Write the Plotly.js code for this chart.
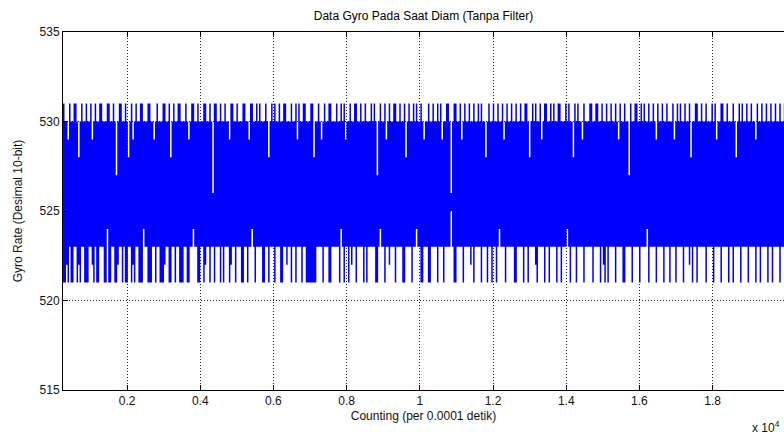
<!DOCTYPE html>
<html>
<head>
<meta charset="utf-8">
<script src="https://cdn.plot.ly/plotly-3.0.1.min.js"></script>
<style>html,body{margin:0;padding:0;background:#fff;}#chart{width:784px;height:437px;}</style>
</head>
<body>
<div id="chart"></div>
<script>
// Counting index of the first plotted column and spacing between columns (samples)
const countStart = 250;
const countStep = 41.2;

// Upper envelope of the gyro reading (max per column, Desimal 10-bit)
const gyroMax = [
531,530,530,529,531,530,530,531,531,530,528,530,531,530,530,531,530,530,531,529,
530,531,530,530,531,531,530,530,530,531,531,530,530,531,530,527,530,531,531,530,
530,531,530,528,530,531,529,530,531,530,530,531,531,530,530,530,531,531,530,530,
529,530,531,530,530,530,531,531,530,530,531,528,530,531,530,530,531,531,530,530,
530,531,530,529,530,531,531,530,530,531,530,530,530,531,531,530,530,531,530,526,
531,531,530,530,531,530,530,531,530,530,529,531,531,530,530,531,530,530,530,531,
531,530,530,529,531,531,530,530,531,530,531,530,530,530,531,530,528,530,531,530,
531,530,530,531,530,530,531,531,530,530,530,531,530,530,531,529,531,530,530,531,
531,530,530,530,531,531,528,530,530,531,530,529,530,531,530,530,531,531,530,530,
530,531,530,530,531,530,531,529,530,530,531,530,530,531,531,530,530,531,530,530,
531,530,530,530,531,530,531,530,527,530,531,530,530,531,529,530,531,530,530,531,
531,530,530,531,530,530,531,528,530,531,530,530,531,530,531,530,530,531,530,529,
530,530,531,530,530,531,530,530,531,530,531,529,530,530,531,531,530,526,530,531,
531,530,530,531,529,530,531,530,530,531,530,530,531,530,530,531,530,531,530,530,
528,530,531,530,530,531,530,530,531,530,530,531,529,530,531,530,530,531,530,530,
531,530,530,531,530,530,531,531,530,528,530,531,530,531,530,530,531,529,530,531,
531,530,530,531,530,531,530,530,531,531,530,530,530,531,530,531,530,530,528,531,
530,531,530,530,529,531,530,530,530,531,531,530,530,531,531,530,530,531,530,530,
531,530,530,531,530,530,531,530,529,531,530,530,531,530,530,527,531,530,530,531,
531,530,530,531,530,531,530,530,531,530,530,531,530,529,531,530,530,531,530,530,
531,530,530,530,531,529,530,531,530,531,530,530,531,530,530,531,528,530,530,531,
531,530,530,531,530,530,531,530,530,530,531,530,531,529,530,530,531,531,530,530,
531,530,530,530,531,530,528,530,531,530,531,530,530,531,530,530,531,530,530,529,
531,530,530,531,530,530,531,530,530,531,530,530,531,530,530,531,530,530,531,531
];

// Lower envelope of the gyro reading (min per column, Desimal 10-bit)
const gyroMin = [
521,521,522,521,523,521,521,523,523,521,522,521,523,523,521,521,521,523,523,522,
521,523,521,521,523,523,523,521,521,524,521,521,523,523,521,521,522,523,523,521,
523,521,521,523,523,521,522,521,523,523,521,521,521,524,523,523,521,521,521,523,
523,521,523,523,521,521,521,522,523,523,521,521,523,523,521,523,523,521,521,521,
523,523,521,521,523,523,524,523,523,521,521,523,523,521,522,523,523,521,523,523,
521,523,523,523,521,523,521,523,523,523,521,522,523,523,521,523,523,523,521,521,
523,523,521,523,523,524,523,521,523,523,523,523,521,521,523,523,521,523,523,523,
521,523,523,523,521,521,523,523,522,523,523,521,523,523,521,523,523,523,521,523,
523,521,521,521,521,521,521,521,523,523,523,523,521,523,523,523,521,521,523,523,
523,523,523,521,524,523,521,523,523,521,523,522,523,523,521,523,523,523,523,521,
523,521,523,523,523,523,523,521,521,523,524,523,523,521,523,523,522,523,523,523,
521,523,523,523,523,521,521,523,523,523,523,521,523,523,524,523,523,521,521,523,
523,523,521,521,523,523,523,523,521,523,523,523,521,523,523,523,523,525,523,521,
521,523,523,523,523,521,523,523,523,523,522,523,521,523,523,523,523,521,523,523,
523,521,523,523,521,523,523,521,523,524,523,523,523,521,523,523,523,523,523,521,
521,523,523,523,523,521,523,523,521,523,523,523,523,522,521,523,523,523,523,521,
523,523,521,523,523,523,523,521,523,523,521,523,523,523,524,523,521,523,523,523,
521,523,523,523,523,521,523,523,523,523,523,521,523,523,523,523,521,523,522,521,
523,521,523,523,523,523,521,523,523,523,523,521,521,523,523,523,523,521,523,523,
523,523,521,523,523,523,523,524,521,523,523,523,523,521,523,523,523,523,521,523,
523,523,521,523,523,523,521,523,523,523,523,521,523,523,523,522,523,521,523,523,
521,523,523,523,523,523,521,523,523,523,523,521,523,523,523,523,521,523,523,523,
523,521,523,523,521,523,523,523,523,521,523,523,523,523,521,523,523,523,523,521,
523,523,521,523,523,523,523,521,523,523,521,523,523,523,523,521,523,523,523,521
];

const xTickVals = [2000, 4000, 6000, 8000, 10000, 12000, 14000, 16000, 18000];
const xTickText = ["0.2", "0.4", "0.6", "0.8", "1", "1.2", "1.4", "1.6", "1.8"];
const yTickVals = [515, 520, 525, 530, 535];

const counting = gyroMax.map((_, i) => countStart + i * countStep);

const blue = "#0000ff";
const traces = [
  { x: counting, y: gyroMin, type: "scatter", mode: "lines",
    line: { shape: "hv", width: 0, color: blue }, hoverinfo: "skip", showlegend: false },
  { x: counting, y: gyroMax, type: "scatter", mode: "lines", fill: "tonexty",
    fillcolor: blue, line: { shape: "hv", width: 0, color: blue }, showlegend: false }
];

const font = { family: "Liberation Sans, Arial, sans-serif", size: 12, color: "#111" };

const layout = {
  width: 784, height: 437,
  margin: { l: 63, r: 0, t: 32, b: 47 },
  paper_bgcolor: "#fff", plot_bgcolor: "#fff",
  font: font,
  showlegend: false,
  title: { text: "Data Gyro Pada Saat Diam (Tanpa Filter)", font: { family: font.family, size: 12, color: "#000" },
           x: 0.5, xref: "paper", y: 0.963, yref: "container", yanchor: "middle" },
  xaxis: {
    range: [250, 19950], tickmode: "array", tickvals: xTickVals, ticktext: xTickText,
    ticks: "inside", ticklen: 5, tickcolor: "#000", tickwidth: 1,
    showline: true, linecolor: "#000", linewidth: 1, mirror: "ticks",
    showgrid: true, gridcolor: "#222", griddash: "1px,2px", gridwidth: 1,
    zeroline: false, tickfont: font,
    title: { text: "Counting (per 0.0001 detik)", font: font, standoff: 4 }
  },
  yaxis: {
    range: [515, 535], tickmode: "array", tickvals: yTickVals,
    ticks: "inside", ticklen: 5, tickcolor: "#000", tickwidth: 1,
    showline: true, linecolor: "#000", linewidth: 1, mirror: false,
    showgrid: true, gridcolor: "#222", griddash: "1px,2px", gridwidth: 1,
    zeroline: false, tickfont: font,
    title: { text: "Gyro Rate (Desimal 10-bit)", font: font, standoff: 14 }
  },
  annotations: [
    { text: "x 10<sup>4</sup>", xref: "paper", yref: "paper", x: 0.953, y: -0.104,
      xanchor: "left", yanchor: "middle", showarrow: false, font: font }
  ]
};

Plotly.newPlot("chart", traces, layout, { displayModeBar: false, staticPlot: true });
</script>
</body>
</html>
